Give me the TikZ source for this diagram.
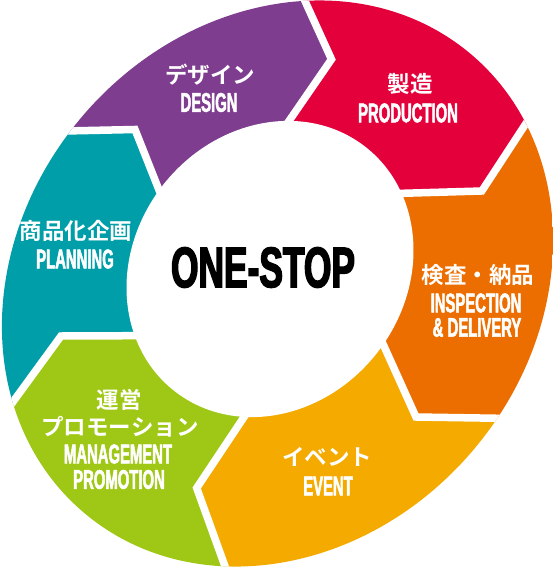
\documentclass[tikz,border=0pt]{standalone}
\usepackage{fontspec}
\usetikzlibrary{calc}
\newfontfamily\jpfont{Noto Sans CJK JP}[UprightFont={* Bold}]
\newfontfamily\enfont{Liberation Sans}[UprightFont={* Bold}, FakeStretch=0.55, FakeBold=1.8]
\newfontfamily\bigfont{Liberation Sans}[UprightFont={* Bold}, FakeStretch=0.62, FakeBold=2.5]
\definecolor{cpurple}{HTML}{7E3D8F}
\definecolor{cred}{HTML}{E4003A}
\definecolor{corange}{HTML}{EC6E00}
\definecolor{cyellow}{HTML}{F5AA00}
\definecolor{cgreen}{HTML}{9FC816}
\definecolor{cteal}{HTML}{009EA8}
\tikzset{
  jp/.style={text=white, inner sep=0pt, font=\jpfont\fontsize{22.5}{24}\selectfont},
  en/.style={text=white, inner sep=0pt, font=\enfont\fontsize{27}{28}\selectfont},
  bigtext/.style={text=black, inner sep=0pt, font=\bigfont\fontsize{57}{60}\selectfont},
  gapline/.style={draw=white, line width=7.5pt, line join=miter, line cap=butt},
}
\begin{document}
\begin{tikzpicture}[x=1pt,y=-1pt]
\useasboundingbox (0,0) rectangle (553,567);
\fill[white] (0,0) rectangle (553,567);
\coordinate (Ci) at (270,269);
\coordinate (Co) at (277.5,283.5);
\coordinate (I1) at (159,190);     \coordinate (A1) at (135,129.5);  \coordinate (O1) at (65,131);
\coordinate (I2) at (288.5,121.7); \coordinate (A2) at (331.5,59.3); \coordinate (O2) at (304.5,0);
\coordinate (I3) at (402.7,193.3); \coordinate (A3) at (481.8,191);  \coordinate (O3) at (524.3,126);
\coordinate (I4) at (383.5,345);   \coordinate (A4) at (416,417);    \coordinate (O4) at (499.3,418.3);
\coordinate (I5) at (244,417);     \coordinate (A5) at (196.7,488);  \coordinate (O5) at (225,566.3);
\coordinate (I6) at (133.3,335.7); \coordinate (A6) at (61,336);     \coordinate (O6) at (12.5,402.5);
\foreach \k in {1,...,6} {\coordinate (E\k) at ($(Co)!1.8!(O\k)$);}
\begin{scope}
  \clip[rotate around={50:(277.5,283.5)}] (277.5,283.5) ellipse [x radius=300pt, y radius=257pt];
  \fill[cpurple] (Ci) -- (I1) -- (A1) -- (O1) -- (E1) -- (E2) -- (O2) -- (A2) -- (I2) -- cycle;
  \fill[cred]    (Ci) -- (I2) -- (A2) -- (O2) -- (E2) -- (E3) -- (O3) -- (A3) -- (I3) -- cycle;
  \fill[corange] (Ci) -- (I3) -- (A3) -- (O3) -- (E3) -- (E4) -- (O4) -- (A4) -- (I4) -- cycle;
  \fill[cyellow] (Ci) -- (I4) -- (A4) -- (O4) -- (E4) -- (E5) -- (O5) -- (A5) -- (I5) -- cycle;
  \fill[cgreen]  (Ci) -- (I5) -- (A5) -- (O5) -- (E5) -- (E6) -- (O6) -- (A6) -- (I6) -- cycle;
  \fill[cteal]   (Ci) -- (I6) -- (A6) -- (O6) -- (E6) -- (E1) -- (O1) -- (A1) -- (I1) -- cycle;
  \foreach \k in {1,...,6} {
    \draw[gapline] ($(I\k)!-0.2!(A\k)$) -- (A\k) -- ($(A\k)!1.6!(O\k)$);
  }
  \fill[white, rotate around={52:(270,269)}] (270,269) ellipse [x radius=155pt, y radius=136pt];
\end{scope}
\node[jp] (t1j) at (210,75) {デザイン};
\node[en] (t1e) at (209,102.5) {DESIGN};
\node[jp] (t2j) at (410,84) {製造};
\node[en] (t2e) at (408,113) {PRODUCTION};
\node[jp] (t3j) at (478,275) {検査・納品};
\node[en] (t3e) at (476,303) {INSPECTION};
\node[en] (t3f) at (477,327.5) {\& DELIVERY};
\node[jp] (t4j) at (327,457) {イベント};
\node[en] (t4e) at (328,486) {EVENT};
\node[jp] (t5j) at (119,400) {運営};
\node[jp] (t5k) at (120,427) {プロモーション};
\node[en] (t5e) at (118,454) {MANAGEMENT};
\node[en] (t5f) at (119,479.5) {PROMOTION};
\node[jp] (t6j) at (76,231) {商品化企画};
\node[en] (t6e) at (75,259) {PLANNING};
\node[bigtext] (ctr) at (263,267.5) {ONE-STOP};
\end{tikzpicture}
\end{document}
